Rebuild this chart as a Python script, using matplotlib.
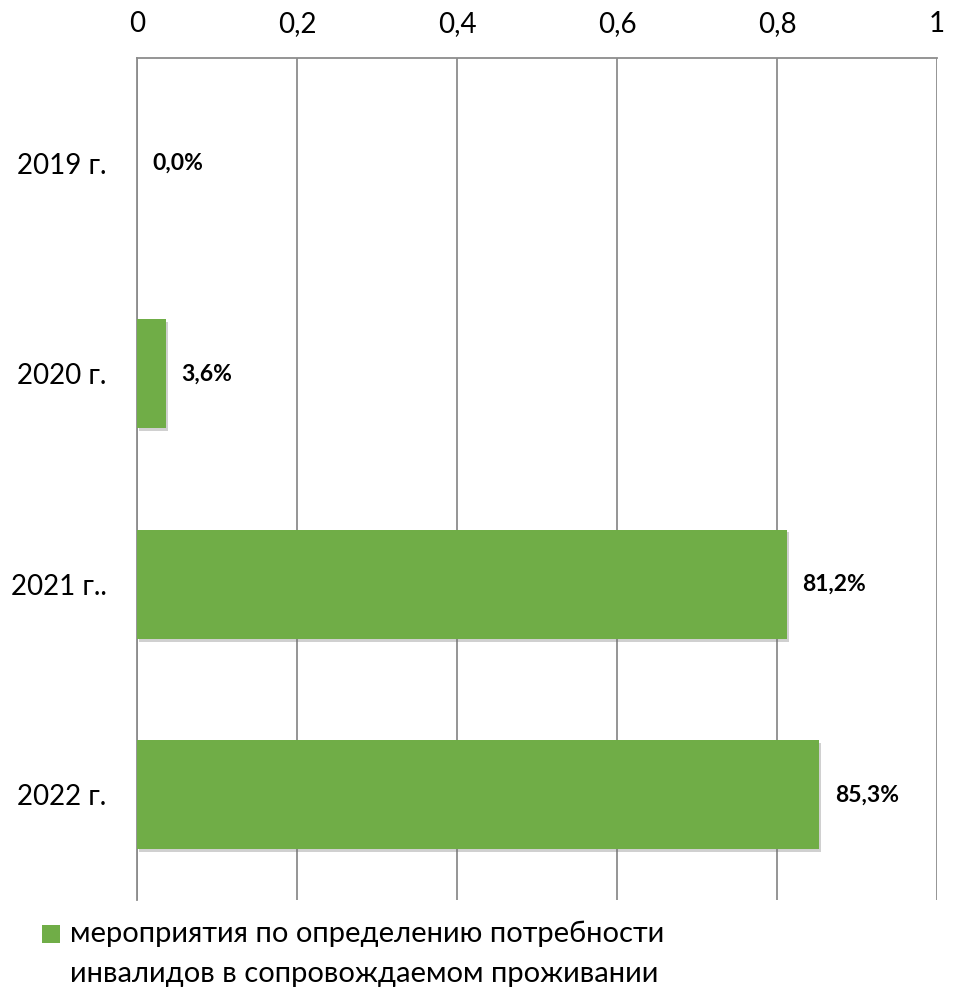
import matplotlib.pyplot as plt
import matplotlib.patheffects as pe
from matplotlib.patches import Rectangle

categories = ["2019 г.", "2020 г.", "2021 г..", "2022 г."]
values = [0.0, 0.036, 0.812, 0.853]
labels = ["0,0%", "3,6%", "81,2%", "85,3%"]
ticks = [0, 0.2, 0.4, 0.6, 0.8, 1]
tick_labels = ["0", "0,2", "0,4", "0,6", "0,8", "1"]
series_line1 = "мероприятия по определению потребности"
series_line2 = "инвалидов в сопровождаемом проживании"

green = "#70AD47"
grid_col = "#8C8C8C"

plt.rcParams['font.family'] = ['Lato', 'DejaVu Sans']

W, H = 956, 988
fig = plt.figure(figsize=(W / 100, H / 100), dpi=100)
# plot area in pixels: left 137, right 937, top 58, bottom 900
ax = fig.add_axes([137/W, 1 - 900/H, 800/W, 842/H])

ypos = list(range(len(categories)))
bars = ax.barh(ypos, values, height=0.52, color=green, zorder=3)
for b in bars:
    b.set_path_effects([pe.SimplePatchShadow(offset=(1.5, -2), shadow_rgbFace="#666666", alpha=0.3), pe.Normal()])

for y, v, t in zip(ypos, values, labels):
    ax.annotate(t, (v, y), xytext=(11, 0), textcoords="offset points",
                ha="left", va="center", fontsize=16.5, fontweight="bold", color="black")

ax.set_xlim(0, 1)
ax.set_ylim(len(categories) - 0.5, -0.5)
ax.set_xticks(ticks)
ax.set_xticklabels(tick_labels)
ax.set_yticks(ypos)
ax.set_yticklabels(categories)
ax.xaxis.tick_top()
ax.tick_params(axis="x", length=0, pad=15, labelsize=20)
ax.tick_params(axis="y", length=0, pad=22, labelsize=20)

ax.grid(axis="x", color=grid_col, linewidth=1.3, zorder=0)
for s in ["right", "bottom"]:
    ax.spines[s].set_visible(False)
ax.spines["left"].set_color(grid_col)
ax.spines["left"].set_linewidth(1.3)
ax.spines["top"].set_color(grid_col)
ax.spines["top"].set_linewidth(1.3)

# legend: swatch + two-line label
fig.patches.append(Rectangle((42/W, 1 - 943/H), 18/W, 18/H, transform=fig.transFigure,
                             facecolor=green, edgecolor="none"))
fig.text(70/W, 1 - 942/H, series_line1, fontsize=21, ha="left", va="baseline")
fig.text(70/W, 1 - 982/H, series_line2, fontsize=21, ha="left", va="baseline")

fig.savefig("out.png", dpi=100)
